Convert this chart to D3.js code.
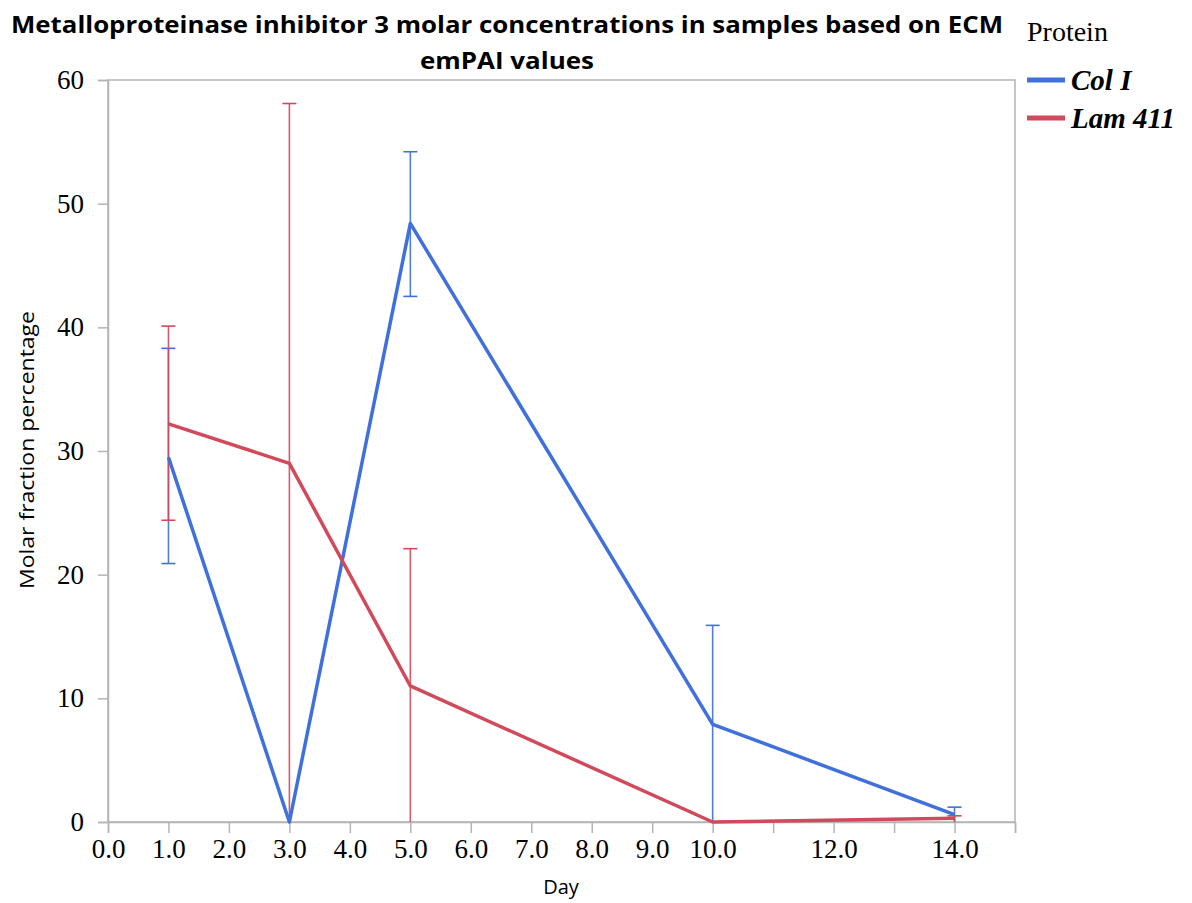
<!DOCTYPE html>
<html><head><meta charset="utf-8">
<script src="https://cdn.jsdelivr.net/npm/d3@7"></script>
<style>body{margin:0;background:#fff;} svg{display:block;}</style>
</head><body>
<svg id="c" width="1192" height="903"></svg>
<script>
const days = [1, 3, 5, 10, 14];
const colI = [29.5, 0, 48.4, 7.9, 0.6];
const colILow = [20.9, 0, 42.5, 0, 0];
const colIHigh = [38.3, 0, 54.2, 15.9, 1.2];
const lam411 = [32.2, 29.0, 11.0, 0, 0.3];
const lamLow = [24.4, 0, 0, 0, 0];
const lamHigh = [40.1, 58.1, 22.1, 0, 0.5];
const xTickValues = [0,1,2,3,4,5,6,7,8,9,10,11,12,13,14,15];
const xTickLabels = [0,1,2,3,4,5,6,7,8,9,10,12,14];
const yTickValues = [0,10,20,30,40,50,60];
const seriesNames = ["Col I", "Lam 411"];
const colors = ["#4070dc", "#d2495b"];

const svg = d3.select("#c");
const L = 108, R = 1015, T = 80, B = 822;
const x = d3.scaleLinear().domain([0, 15]).range([L, R]);
const y = d3.scaleLinear().domain([0, 60]).range([B, T]);
const axisColor = "#b4b4b4";
const serif = "'Liberation Serif', 'Times New Roman', serif";
const sans = "'Open Sans', 'DejaVu Sans', sans-serif";

// frame
svg.append("rect").attr("x", L).attr("y", T).attr("width", R - L).attr("height", B - T)
  .attr("fill", "none").attr("stroke", axisColor).attr("stroke-width", 1.5);

// y axis
const yAx = svg.append("g").attr("transform", `translate(${L},0)`)
  .call(d3.axisLeft(y).tickValues(yTickValues).tickSize(10).tickFormat(d3.format("d")));
yAx.select(".domain").attr("stroke", axisColor).attr("stroke-width", 1.5);
yAx.selectAll(".tick line").attr("stroke", axisColor).attr("stroke-width", 1.5);
yAx.selectAll(".tick text").attr("font-family", serif)
  .attr("font-size", 27).attr("fill", "#000").attr("x", -24);

// x axis
const xAx = svg.append("g").attr("transform", `translate(0,${B})`)
  .call(d3.axisBottom(x).tickValues(xTickValues).tickSize(11)
    .tickFormat(d => xTickLabels.includes(d) ? d3.format(".1f")(d) : ""));
xAx.select(".domain").attr("stroke", axisColor).attr("stroke-width", 1.5);
xAx.selectAll(".tick line").attr("stroke", axisColor).attr("stroke-width", 1.5);
xAx.selectAll(".tick text").attr("font-family", serif)
  .attr("font-size", 27).attr("fill", "#000").attr("y", 17);

// series
const series = [
  {name: seriesNames[0], v: colI, lo: colILow, hi: colIHigh, c: colors[0]},
  {name: seriesNames[1], v: lam411, lo: lamLow, hi: lamHigh, c: colors[1]}
];
const line = d3.line().x(d => x(d[0])).y(d => y(d[1]));
series.forEach(s => {
  const g = svg.append("g");
  days.forEach((d, i) => {
    if (s.hi[i] > s.lo[i]) {
      g.append("line").attr("x1", x(d)).attr("x2", x(d)).attr("y1", y(s.lo[i])).attr("y2", y(s.hi[i]))
        .attr("stroke", s.c).attr("stroke-width", 1.6).attr("opacity", 0.9);
      g.append("line").attr("x1", x(d) - 7).attr("x2", x(d) + 7).attr("y1", y(s.hi[i])).attr("y2", y(s.hi[i]))
        .attr("stroke", s.c).attr("stroke-width", 1.6);
      if (s.lo[i] > 0) {
        g.append("line").attr("x1", x(d) - 7).attr("x2", x(d) + 7).attr("y1", y(s.lo[i])).attr("y2", y(s.lo[i]))
          .attr("stroke", s.c).attr("stroke-width", 1.6);
      }
    }
  });
});
series.forEach(s => {
  svg.append("path").datum(days.map((d, i) => [d, s.v[i]]))
    .attr("d", line).attr("fill", "none").attr("stroke", s.c).attr("stroke-width", 3.5)
    .attr("stroke-linejoin", "round");
});

// title
const title = svg.append("g").attr("font-family", sans)
  .attr("font-weight", "bold").attr("font-size", 24).attr("text-anchor", "middle").attr("fill", "#000");
title.append("text").attr("x", 507).attr("y", 33).attr("textLength", 992).attr("lengthAdjust", "spacingAndGlyphs")
  .text("Metalloproteinase inhibitor 3 molar concentrations in samples based on ECM");
title.append("text").attr("x", 507).attr("y", 69).attr("textLength", 174).attr("lengthAdjust", "spacingAndGlyphs")
  .text("emPAI values");

// axis titles
svg.append("text").attr("transform", "translate(34,450) rotate(-90)").attr("text-anchor", "middle")
  .attr("font-family", sans).attr("font-size", 20).attr("fill", "#000")
  .attr("textLength", 278).attr("lengthAdjust", "spacingAndGlyphs")
  .text("Molar fraction percentage");
svg.append("text").attr("x", 561).attr("y", 894).attr("text-anchor", "middle")
  .attr("font-family", sans).attr("font-size", 20).attr("fill", "#000")
  .text("Day");

// legend
const lg = svg.append("g").attr("font-family", serif);
lg.append("text").attr("x", 1027).attr("y", 41).attr("font-size", 28).attr("fill", "#000").text("Protein");
series.forEach((s, i) => {
  const yy = 80 + i * 38;
  lg.append("line").attr("x1", 1027).attr("x2", 1065).attr("y1", yy).attr("y2", yy)
    .attr("stroke", s.c).attr("stroke-width", 5);
  lg.append("text").attr("x", 1071).attr("y", yy + 10).attr("font-size", 29).attr("font-weight", "bold")
    .attr("font-style", "italic").attr("fill", "#000").text(s.name);
});
</script>
</body></html>
